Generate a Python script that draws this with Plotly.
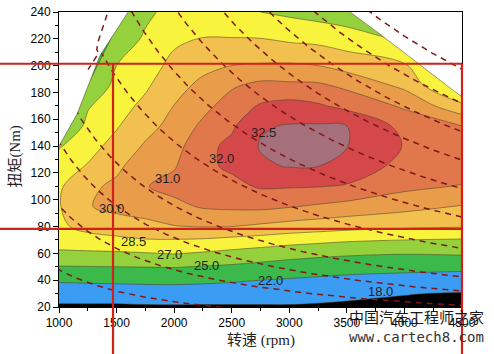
import numpy as np
import plotly.graph_objects as go

# ---------------- data ----------------
rpm = [1000, 1250, 1500, 1750, 2000, 2250, 2500, 2750, 3000, 3250, 3500, 4000, 4500]
torque = [20, 30, 40, 50, 60, 70, 80, 95, 110, 125, 140, 155, 170, 185, 200, 220, 240]

# efficiency (%) : rows = torque, cols = rpm
eff = [
    [16.9, 16.9, 16.8, 17.1, 17.2, 17.1, 17.2, 17.3, 17.4, 17.2, 16.9, 16.6, 15.5],    # 20
    [19.66, 19.75, 19.86, 20.0, 20.07, 20.0, 19.81, 19.58, 19.37, 19.03, 18.69, 18.12, 17.6],  # 30
    [22.37, 22.49, 22.6, 22.7, 22.72, 22.57, 22.33, 22.0, 21.66, 21.31, 20.97, 20.55, 20.08],  # 40
    [24.85, 24.93, 25.0, 25.04, 25.1, 24.86, 24.56, 24.14, 23.76, 23.45, 23.18, 22.89, 22.78],  # 50
    [26.71, 26.72, 26.74, 26.9, 27.07, 26.81, 26.45, 26.09, 25.73, 25.48, 25.29, 25.1, 25.24],  # 60
    [27.6, 27.88, 28.21, 28.43, 28.43, 28.35, 28.1, 27.88, 27.6, 27.4, 27.2, 27.0, 26.84],    # 70
    [28.2, 29.0, 29.2, 29.48, 29.93, 30.04, 30.0, 29.72, 29.42, 29.21, 29.0, 28.73, 28.59],   # 80
    [28.4, 29.9, 30.3, 30.55, 30.75, 31.1, 31.2, 31.24, 31.07, 30.87, 30.67, 30.31, 29.91],   # 95
    [28.3, 29.6, 30.25, 30.95, 31.3, 31.6, 31.75, 32.05, 32.04, 32.02, 31.92, 31.25, 30.93],  # 110
    [27.8, 28.6, 29.61, 30.75, 30.92, 31.8, 32.08, 32.43, 32.58, 32.52, 32.3, 31.7, 31.6],    # 125
    [26.8, 28.0, 28.97, 30.12, 30.62, 31.7, 32.12, 32.6, 32.8, 32.78, 32.55, 31.95, 31.5],    # 140
    [24.3, 27.4, 28.38, 29.49, 30.32, 31.2, 31.85, 32.45, 32.6, 32.65, 32.5, 31.7, 31.0],     # 155
    [22.0, 26.8, 27.92, 28.84, 30.02, 30.7, 31.46, 32.05, 32.17, 32.06, 31.72, 30.85, 28.87], # 170
    [20.0, 25.1, 27.46, 28.29, 29.48, 30.24, 30.88, 31.28, 31.22, 31.18, 30.8, 29.67, 26.0],  # 185
    [18.0, 23.5, 27.0, 27.84, 28.91, 29.61, 30.0, 30.09, 30.12, 30.0, 29.42, 28.7, 23.5],     # 200
    [16.0, 21.5, 25.57, 27.24, 28.22, 28.55, 28.54, 28.54, 28.24, 28.06, 27.71, 26.7, 21.0],  # 220
    [14.0, 19.5, 24.2, 26.5, 27.6, 27.8, 27.7, 27.0, 26.6, 26.2, 25.8, 24.0, 19.0],           # 240
]

levels = [18.0, 22.0, 25.0, 27.0, 28.5, 30.0, 31.0, 32.0, 32.5]
level_labels = ["18.0", "22.0", "25.0", "27.0", "28.5", "30.0", "31.0", "32.0", "32.5"]
label_rpm = [3788, 2833, 2277, 1956, 1651, 1460, 1942, 2411, 2780]
label_torque = [31.7, 39.7, 50.6, 59.4, 68.9, 93.2, 115.5, 130.9, 149.8]

band_colors = ["#000000", "#3b9cf3", "#3bb94a", "#94d13d", "#f8f43e",
               "#f1c04f", "#e99c4a", "#e0784b", "#d4484a", "#a5707b"]

# iso-power lines (kW)
power_kw = [5, 10, 15, 20, 30, 41, 51, 61, 71, 81, 93]

# boundaries of the mapped area (max torque limits)
left_limit_rpm = [900, 1000, 1156, 1356, 1600, 1680, 900]
left_limit_torque = [125, 140, 163.7, 207.5, 240, 255, 255]
right_limit_rpm = [3370, 3528, 3788, 4440, 4500, 4650, 4650]
right_limit_torque = [250, 240, 223.5, 180.5, 176.8, 167.5, 255]

# dashed full-load segment at upper left
fl_rpm = [1417, 1340, 1328, 1345, 1252]
fl_torque = [238, 218, 212, 209.5, 197]

# ---------------- figure ----------------
z = np.array(eff)
xp = [10.0] + levels + [34.0]
fp = list(range(len(xp)))
zi = np.interp(z, xp, fp)
nb = len(band_colors)
colorscale = [[j / (nb - 1), c] for j, c in enumerate(band_colors)]

fig = go.Figure()
fig.add_trace(go.Contour(
    x=rpm, y=torque, z=zi,
    contours=dict(start=1, end=len(levels), size=1, coloring="fill", showlabels=False),
    colorscale=colorscale, showscale=False,
    line=dict(color="rgba(70,60,40,0.75)", width=0.7, smoothing=1.0),
    hoverinfo="skip",
))

boundary_line = dict(color="rgba(70,60,40,0.75)", width=0.7)
fig.add_trace(go.Scatter(x=right_limit_rpm, y=right_limit_torque, fill="toself",
                         fillcolor="white", mode="lines", line=boundary_line, hoverinfo="skip"))

dash_style = dict(color="#801818", width=1.5, dash="6px,5px")
n_axis = np.linspace(900, 4600, 300)
for p in power_kw:
    t = 9549.0 * p / n_axis
    fig.add_trace(go.Scatter(x=n_axis, y=t, mode="lines", line=dash_style, hoverinfo="skip"))

fig.add_trace(go.Scatter(x=left_limit_rpm, y=left_limit_torque, fill="toself",
                         fillcolor="white", mode="lines", line=boundary_line, hoverinfo="skip"))
fig.add_trace(go.Scatter(x=fl_rpm, y=fl_torque, mode="lines", line=dash_style, hoverinfo="skip"))

annotations = []
for lab, xv, yv in zip(level_labels, label_rpm, label_torque):
    annotations.append(dict(x=xv, y=yv, xref="x", yref="y", text=lab, showarrow=False,
                            font=dict(family="Liberation Sans, Arial", size=13, color="#1e1e1e")))

title_font = dict(family="Liberation Serif, 'Noto Sans CJK SC'", size=15, color="#222")
annotations.append(dict(x=0.5, y=-0.1126, xref="paper", yref="paper", text="转速 (rpm)",
                        showarrow=False, font=title_font, xanchor="center", yanchor="middle"))
annotations.append(dict(x=-0.109, y=0.51, xref="paper", yref="paper", text="扭矩(Nm)",
                        showarrow=False, font=title_font, textangle=-90,
                        xanchor="center", yanchor="middle"))
# watermark
annotations.append(dict(x=0.886, y=-0.033, xref="paper", yref="paper", text="中国汽车工程师之家",
                        showarrow=False, font=dict(family="Noto Sans CJK SC", size=15, color="#1a1a1a"),
                        xanchor="center", yanchor="middle"))
annotations.append(dict(x=0.886, y=-0.1026, xref="paper", yref="paper", text="www.cartech8.com",
                        showarrow=False, font=dict(family="DejaVu Sans Mono", size=14, color="#333"),
                        xanchor="center", yanchor="middle"))

red = "#d0211b"
rw = 2.2
shapes = [
    dict(type="line", xref="paper", yref="paper", x0=-0.1464, x1=1.0, y0=0.8245, y1=0.8245,
         line=dict(color=red, width=rw)),
    dict(type="line", xref="paper", yref="paper", x0=-0.1464, x1=1.0, y0=0.2649, y1=0.2649,
         line=dict(color=red, width=rw)),
    dict(type="line", xref="paper", yref="paper", x0=0.134, x1=0.134, y0=0.8245, y1=-0.16,
         line=dict(color=red, width=rw)),
    dict(type="line", xref="paper", yref="paper", x0=1.0, x1=1.0, y0=0.8245, y1=-0.16,
         line=dict(color=red, width=rw)),
]

tick_font = dict(family="Liberation Sans, Arial", size=12, color="black")
fig.update_layout(
    width=494, height=354,
    margin=dict(l=59, r=32, t=5, b=47),
    paper_bgcolor="white", plot_bgcolor="white",
    showlegend=False,
    annotations=annotations,
    shapes=shapes,
)
fig.update_xaxes(range=[1000, 4500], tickvals=[1000, 1500, 2000, 2500, 3000, 3500, 4000, 4500],
                 ticks="outside", ticklen=5, tickcolor="black", tickwidth=1,
                 minor=dict(ticks="outside", ticklen=3, dtick=250, tickcolor="black"),
                 showline=True, linecolor="black", linewidth=1, mirror=True,
                 showgrid=False, zeroline=False, tickfont=tick_font, ticklabeloverflow="allow")
fig.update_yaxes(range=[20, 240], tickvals=list(range(20, 241, 20)),
                 ticks="outside", ticklen=5, tickcolor="black", tickwidth=1,
                 minor=dict(ticks="outside", ticklen=3, dtick=10, tickcolor="black"),
                 showline=True, linecolor="black", linewidth=1, mirror=True,
                 showgrid=False, zeroline=False, tickfont=tick_font, ticklabeloverflow="allow")

fig.write_html("out.html")
